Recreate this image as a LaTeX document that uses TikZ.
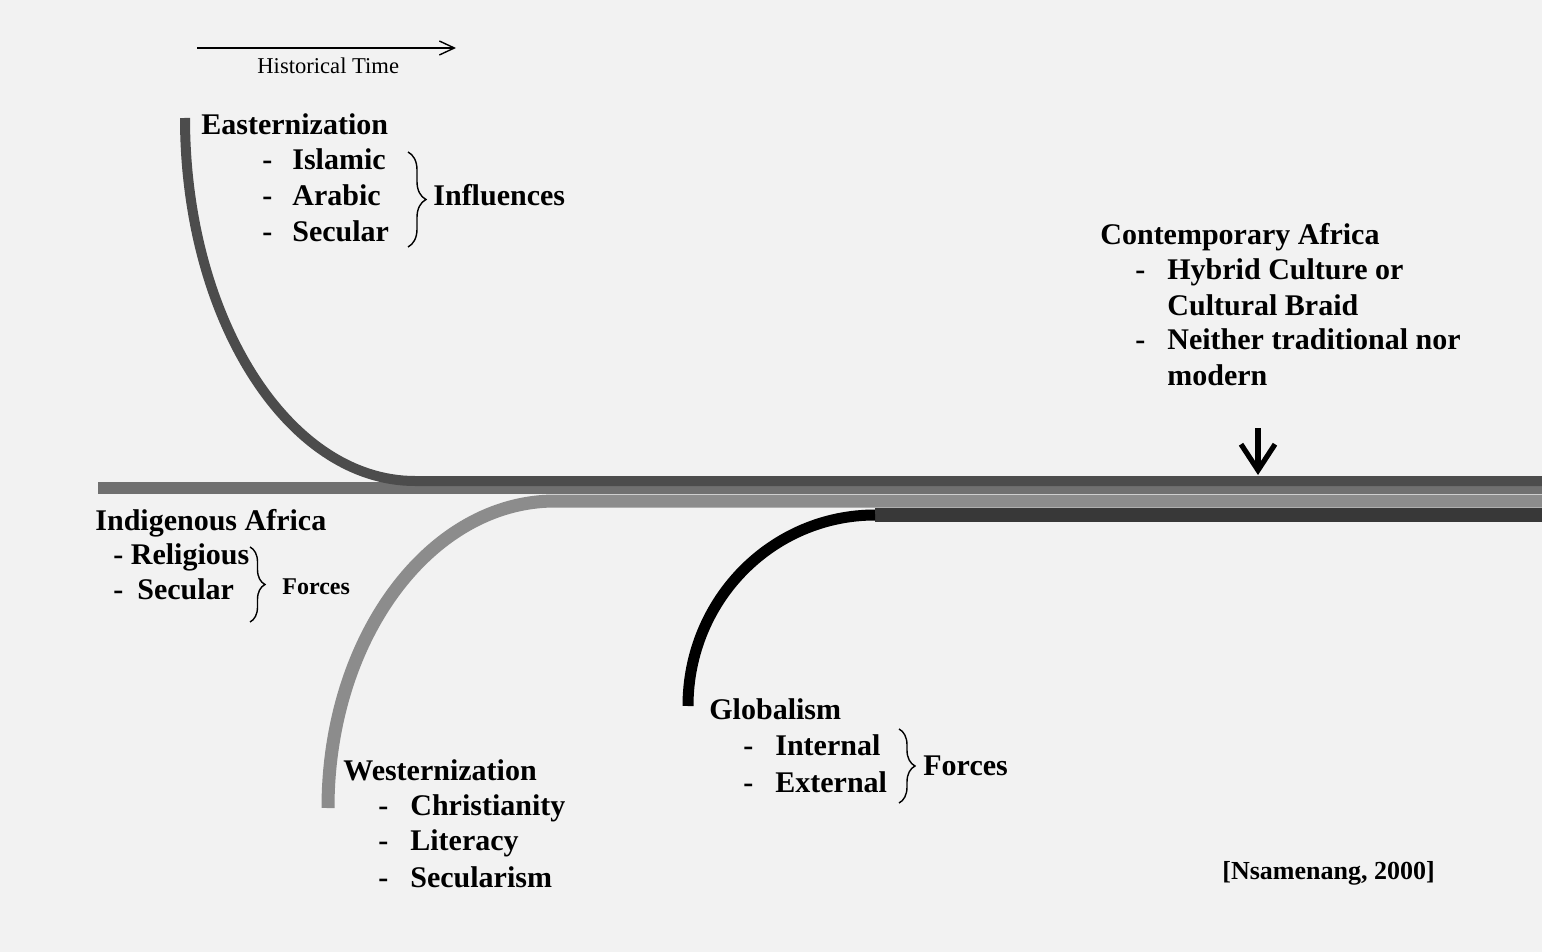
\documentclass[tikz,border=0pt]{standalone}
\usepackage{fontspec}
\setmainfont{Liberation Serif}
\usetikzlibrary{arrows.meta,decorations.pathreplacing}
\newcommand{\itemdash}[1][16pt]{\makebox[#1][l]{-}}

\begin{document}
\begin{tikzpicture}[x=0.5pt,y=0.5pt,yscale=-1,xscale=1,
  txt/.style={anchor=base west,inner sep=0pt,font=\fontsize{15}{18}\selectfont\bfseries},
  small/.style={anchor=base west,inner sep=0pt,font=\fontsize{12}{14}\selectfont\bfseries},
  brc/.style={decorate,decoration={brace,amplitude=#1},line width=0.7pt},
  strand/.style={line width=#1,line cap=butt}]
\useasboundingbox (0,0) rectangle (1542,952);
\path[fill=black!5] (0,0) rectangle (1542,952);

%Straight Lines (historical time)
\coordinate (timeA) at (197,48);
\coordinate (timeB) at (456,48);
\draw [line width=0.7pt,-{Straight Barb[length=7.5pt,width=7pt]}] (timeA) -- (timeB);
% Text Node
\draw (257,74) node [anchor=base west][inner sep=0pt,font=\fontsize{11.3}{13}\selectfont] (time) {Historical Time};

%Straight Lines (indigenous strand)
\coordinate (indA) at (98,488);
\coordinate (indB) at (1542,488);
\draw [strand=6pt,color=black!56] (indA) -- (indB);
%Curve Lines (easternization)
\coordinate (eastA) at (185,118);
\coordinate (eastB) at (415,481);
\coordinate (eastC) at (1542,481);
\draw [strand=5pt,color=black!70] (eastA) .. controls (185,318) and (288,481) .. (eastB) -- (eastC);
%Curve Lines (westernization)
\coordinate (westA) at (328,808);
\coordinate (westB) at (555,501);
\coordinate (westC) at (1542,501);
\draw [strand=6.5pt,color=black!45] (westA) .. controls (328,638) and (430,501) .. (westB) -- (westC);
%Curve Lines (globalism)
\coordinate (globA) at (688,706);
\coordinate (globB) at (875,515);
\coordinate (globC) at (1542,515);
\draw [strand=7pt,color=black!78] (globB) -- (globC);
\draw [strand=5.5pt,color=black] (globA) .. controls (688,600) and (772,515) .. (globB);

%Straight Lines (contemporary arrow)
\coordinate (nowA) at (1258,428);
\coordinate (nowB) at (1258,475);
\draw [line width=2.6pt,-{Straight Barb[length=13pt,width=17pt]}] (nowA) -- (nowB);

% Text Node
\draw (201,135) node [txt] (east) {Easternization};
% Text Node
\draw (262,170) node [txt] (eastI) {\itemdash[15pt]Islamic};
% Text Node
\draw (262,206) node [txt] (eastII) {\itemdash[15pt]Arabic};
% Text Node
\draw (262,242) node [txt] (eastIII) {\itemdash[15pt]Secular};
\coordinate (ebA) at (408,152);
\coordinate (ebB) at (408,247);
\draw [brc=9pt] (ebA) -- (ebB);
% Text Node
\draw (433,206) node [txt] (infl) {Influences};

% Text Node
\draw (1100,245) node [txt] (cont) {Contemporary Africa};
% Text Node
\draw (1135,280) node [txt] (contI) {\itemdash Hybrid Culture or};
% Text Node
\draw (1167,315) node [txt] (contIb) {Cultural Braid};
% Text Node
\draw (1135,350) node [txt] (contII) {\itemdash Neither traditional nor};
% Text Node
\draw (1167,385) node [txt] (contIIb) {modern};

% Text Node
\draw (95,530) node [txt] (ind) {Indigenous Africa};
% Text Node
\draw (113,564) node [txt] (indI) {- Religious};
% Text Node
\draw (113,599) node [txt] (indII) {\itemdash[12pt]Secular};
\coordinate (ibA) at (250,547);
\coordinate (ibB) at (250,622);
\draw [brc=7.5pt] (ibA) -- (ibB);
% Text Node
\draw (282,594) node [small] (indF) {Forces};

% Text Node
\draw (343,780) node [txt] (west) {Westernization};
% Text Node
\draw (378,815) node [txt] (westI) {\itemdash Christianity};
% Text Node
\draw (378,850) node [txt] (westII) {\itemdash Literacy};
% Text Node
\draw (378,887) node [txt] (westIII) {\itemdash Secularism};

% Text Node
\draw (709,719) node [txt] (glob) {Globalism};
% Text Node
\draw (743,755) node [txt] (globI) {\itemdash Internal};
% Text Node
\draw (743,792) node [txt] (globII) {\itemdash External};
\coordinate (gbA) at (899,729);
\coordinate (gbB) at (899,803);
\draw [brc=8pt] (gbA) -- (gbB);
% Text Node
\draw (923,775) node [txt] (globF) {Forces};

% Text Node
\draw (1222,879) node [txt,font=\fontsize{13}{15}\selectfont\bfseries] (src) {[Nsamenang, 2000]};

\end{tikzpicture}
\end{document}
